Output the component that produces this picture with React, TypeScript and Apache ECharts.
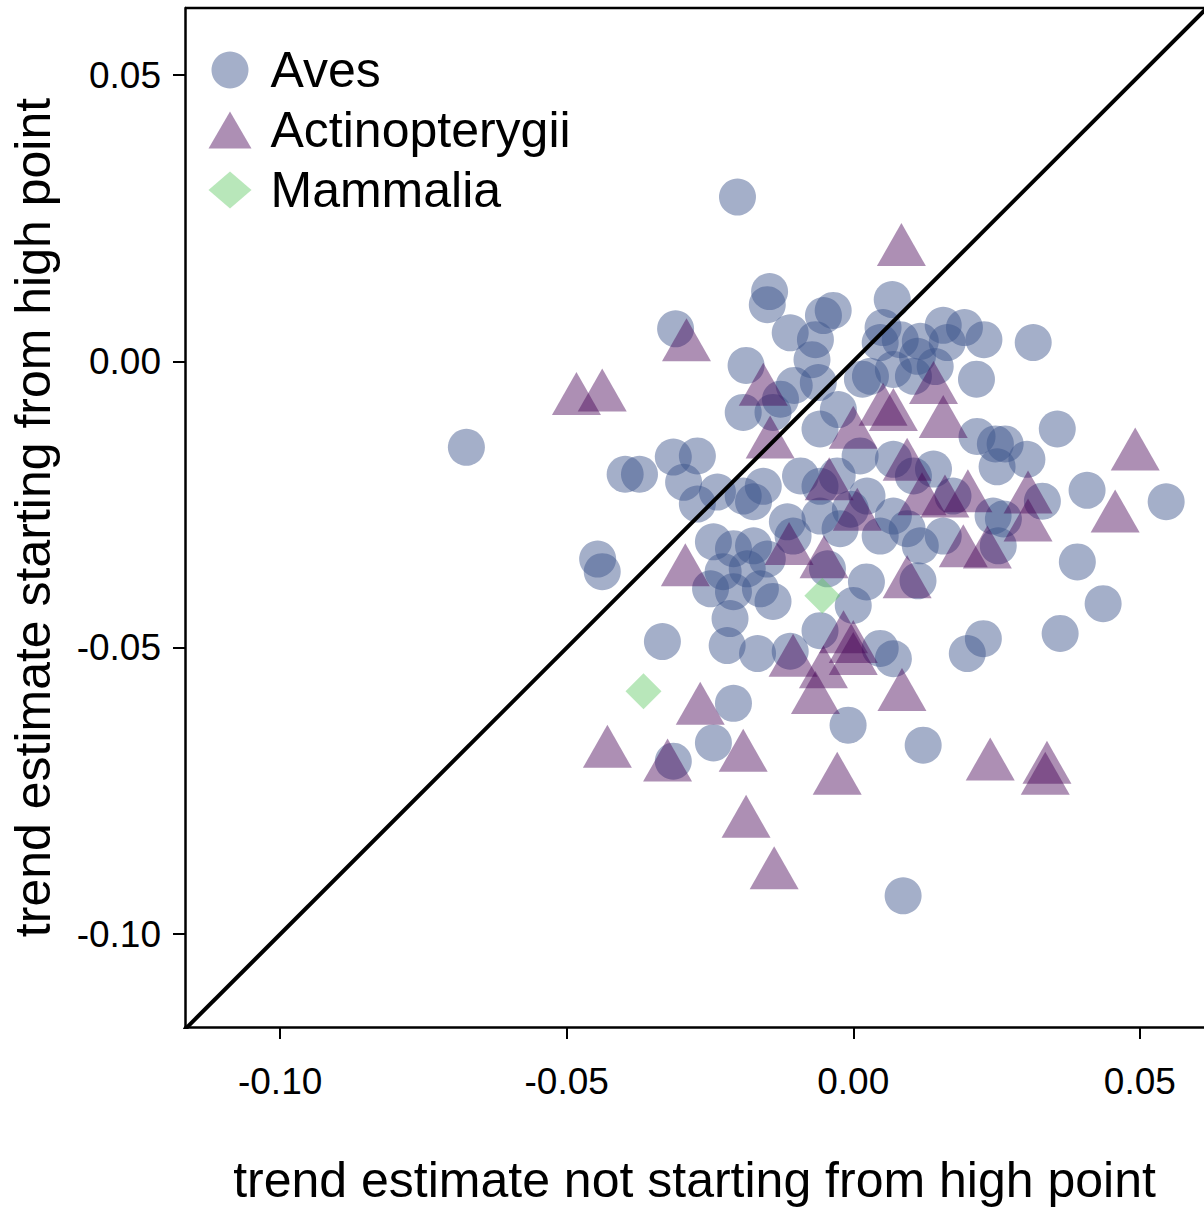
import React, { useEffect, useRef } from "react";
import * as echarts from "echarts";

// Aves (circles)
const avesX = [
  -0.0202, -0.0675, -0.0146, -0.0150, -0.0310, -0.0110, -0.0052, -0.0035, -0.0066, 0.0068,
  0.0052, 0.0082, 0.0117, 0.0157, 0.0194, 0.0228, 0.0314, -0.0187, -0.0072, 0.0016,
  0.0105, 0.0143, 0.0215, -0.0061, -0.0103, -0.0192, -0.0140, -0.0026, -0.0058, 0.0356,
  0.0216, 0.0248, 0.0251, 0.0303, 0.0408, 0.0546, -0.0272, -0.0314, -0.0398, -0.0373,
  -0.0296, -0.0272, -0.0237, -0.0446, -0.0438, -0.0333, -0.0192, -0.0174, -0.0157, -0.0092,
  -0.0058, -0.0028, 0.0012, 0.0024, -0.0005, 0.0070, 0.0105, 0.0140, 0.0174, 0.0070,
  0.0047, 0.0094, 0.0117, 0.0157, -0.0023, -0.0058, -0.0105, -0.0244, -0.0209, -0.0174,
  -0.0150, -0.0185, -0.0227, -0.0249, -0.0209, -0.0162, -0.0140, -0.0215, -0.0220, -0.0167,
  -0.0058, 0.0000, 0.0023, 0.0113, 0.0199, 0.0227, 0.0244, 0.0330, 0.0262, 0.0253,
  0.0391, 0.0436, 0.0361, -0.0009, 0.0122, 0.0087, 0.0070, 0.0047, -0.0110, -0.0209,
  -0.0244, -0.0314, 0.0047, 0.0164, 0.0112, 0.0070, -0.0127, -0.0045, 0.0030, -0.0115,
  0.0265,
];
const avesY = [
  0.0287, -0.0150, 0.0122, 0.0099, 0.0057, 0.0050, 0.0080, 0.0089, 0.0038, 0.0108,
  0.0059, 0.0038, 0.0035, 0.0063, 0.0059, 0.0038, 0.0033, -0.0007, 0.0003, -0.0031,
  -0.0026, -0.0009, -0.0031, -0.0037, -0.0042, -0.0089, -0.0089, -0.0084, -0.0118, -0.0118,
  -0.0131, -0.0144, -0.0184, -0.0171, -0.0225, -0.0245, -0.0165, -0.0167, -0.0197, -0.0197,
  -0.0211, -0.0249, -0.0228, -0.0345, -0.0367, -0.0489, -0.0235, -0.0245, -0.0218, -0.0200,
  -0.0218, -0.0200, -0.0165, -0.0235, -0.0258, -0.0171, -0.0200, -0.0188, -0.0235, -0.0270,
  -0.0305, -0.0292, -0.0322, -0.0305, -0.0292, -0.0270, -0.0305, -0.0315, -0.0327, -0.0322,
  -0.0345, -0.0362, -0.0367, -0.0397, -0.0402, -0.0397, -0.0419, -0.0449, -0.0496, -0.0510,
  -0.0470, -0.0426, -0.0385, -0.0383, -0.0510, -0.0484, -0.0270, -0.0244, -0.0275, -0.0322,
  -0.0350, -0.0423, -0.0475, -0.0635, -0.0670, -0.0933, -0.0519, -0.0501, -0.0506, -0.0597,
  -0.0666, -0.0698, 0.0033, 0.0033, 0.0009, -0.0014, -0.0066, -0.0362, -0.0026, -0.0280,
  -0.0144,
];

// Actinopterygii (triangles)
const actiX = [
  0.0084, -0.0291, -0.0483, -0.0438, -0.0157, -0.0145, 0.0000, 0.0070, 0.0140, 0.0157,
  0.0094, -0.0042, 0.0007, 0.0120, 0.0200, 0.0160, 0.0192, -0.0112, -0.0051, -0.0293,
  0.0094, -0.0017, 0.0000, 0.0492, 0.0457, 0.0305, 0.0305, 0.0234, 0.0085, -0.0066,
  -0.0028, 0.0239, 0.0338, 0.0335, -0.0105, -0.0052, 0.0000, -0.0267, -0.0429, -0.0324,
  -0.0192, -0.0187, -0.0138, 0.0052,
];
const actiY = [
  0.0204, 0.0038, -0.0056, -0.0050, -0.0040, -0.0132, -0.0115, -0.0084, -0.0037, -0.0096,
  -0.0171, -0.0205, -0.0258, -0.0231, -0.0226, -0.0235, -0.0322, -0.0318, -0.0341, -0.0355,
  -0.0376, -0.0472, -0.0489, -0.0153, -0.0261, -0.0228, -0.0277, -0.0324, -0.0573, -0.0578,
  -0.0719, -0.0694, -0.0700, -0.0719, -0.0513, -0.0533, -0.0510, -0.0597, -0.0672, -0.0696,
  -0.0679, -0.0794, -0.0884, -0.0075,
];

// Mammalia (diamonds)
const mammX = [-0.0054, -0.0366];
const mammY = [-0.0409, -0.0576];

// Axis settings
const xMin = -0.1166;
const xMax = 0.0612;
const yMin = -0.1162;
const yMax = 0.0617;
const xTicks = [-0.1, -0.05, 0, 0.05];
const yTicks = [-0.1, -0.05, 0, 0.05];
const refLine = [[-0.2, -0.2], [0.1, 0.1]];

const FONT = "'Liberation Sans', Arial, Helvetica, sans-serif";

const zip = (xs: number[], ys: number[]) => xs.map((x, i) => [x, ys[i]]);

export default function App() {
  const ref = useRef<HTMLDivElement>(null);
  useEffect(() => {
    if (!ref.current) return;
    const chart = echarts.init(ref.current, undefined, { renderer: "svg" });
    const fmt = (v: number) => v.toFixed(2);
    chart.setOption({
      animation: false,
      backgroundColor: "#ffffff",
      textStyle: { fontFamily: FONT },
      grid: { left: 185, top: 8, width: 1019, height: 1022, containLabel: false },
      legend: {
        orient: "vertical",
        left: 208.5,
        top: 45,
        padding: 0,
        itemWidth: 43,
        itemHeight: 37,
        itemGap: 10,
        selectedMode: false,
        textStyle: { fontSize: 50, lineHeight: 50, color: "#000", fontFamily: FONT, padding: [0, 0, 0, 14] },
        data: ["Aves", "Actinopterygii", "Mammalia"],
      },
      xAxis: {
        type: "value",
        min: xMin,
        max: xMax,
        name: "trend estimate not starting from high point",
        nameLocation: "middle",
        nameGap: 128,
        nameTextStyle: { fontSize: 50, color: "#000", fontFamily: FONT },
        axisLine: { show: true, onZero: false, lineStyle: { color: "#000", width: 2.5 } },
        axisTick: { show: true, length: 12, lineStyle: { color: "#000", width: 2 }, customValues: xTicks },
        axisLabel: { fontSize: 37, color: "#000", margin: 36, fontFamily: FONT, customValues: xTicks, formatter: fmt },
        splitLine: { show: false },
      },
      yAxis: {
        type: "value",
        min: yMin,
        max: yMax,
        name: "trend estimate starting from high point",
        nameLocation: "middle",
        nameGap: 127,
        nameRotate: 90,
        nameTextStyle: { fontSize: 50, color: "#000", fontFamily: FONT },
        axisLine: { show: true, onZero: false, lineStyle: { color: "#000", width: 2.5 } },
        axisTick: { show: true, length: 12, lineStyle: { color: "#000", width: 2 }, customValues: yTicks },
        axisLabel: { fontSize: 37, color: "#000", margin: 24, fontFamily: FONT, customValues: yTicks, formatter: fmt },
        splitLine: { show: false },
      },
      graphic: [
        {
          type: "line",
          shape: { x1: 185, y1: 8, x2: 1204, y2: 8 },
          style: { stroke: "#000", lineWidth: 2.5 },
          silent: true,
        },
      ],
      series: [
        {
          name: "Aves",
          type: "scatter",
          symbol: "circle",
          symbolSize: 37,
          itemStyle: { color: "rgba(59,82,139,0.58)" },
          data: zip(avesX, avesY),
          z: 2,
        },
        {
          name: "Actinopterygii",
          type: "scatter",
          symbol: "triangle",
          symbolSize: [49, 43],
          itemStyle: { color: "rgba(68,1,84,0.55)" },
          data: zip(actiX, actiY),
          z: 2,
        },
        {
          name: "Mammalia",
          type: "scatter",
          symbol: "diamond",
          symbolSize: 36,
          itemStyle: { color: "rgba(93,200,99,0.55)" },
          data: zip(mammX, mammY),
          z: 2,
        },
        {
          name: "y = x",
          type: "line",
          data: refLine,
          symbol: "none",
          clip: true,
          silent: true,
          lineStyle: { color: "#000", width: 4 },
          z: 5,
        },
      ],
    });
    return () => chart.dispose();
  }, []);
  return (
    <div
      ref={ref}
      style={{ position: "absolute", left: 0, top: 0, width: 1204, height: 1210, background: "#fff" }}
    />
  );
}
